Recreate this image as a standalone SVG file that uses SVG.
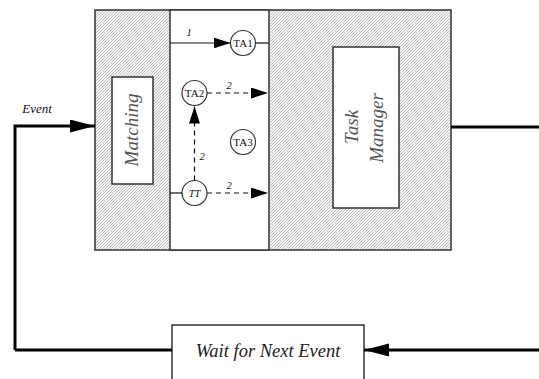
<svg xmlns="http://www.w3.org/2000/svg" width="539" height="379" viewBox="0 0 539 379">
  <style>
    .label { font-family: "Liberation Serif", "Times New Roman", serif; font-style: italic; }
    .big { font-size: 19px; fill: #555; }
    .node-text { font-family: "Liberation Serif", "Times New Roman", serif; font-size: 11px; fill: #111; }
    .num { font-family: "Liberation Serif", "Times New Roman", serif; font-style: italic; font-size: 10.5px; fill: #111; }
    .frame { fill: url(#hatch); stroke: #333; stroke-width: 1.5; }
    .box { fill: #fff; stroke: #333; stroke-width: 1.5; }
    .circle { fill: #fff; stroke: #333; stroke-width: 1.2; }
    .thin { fill: none; stroke: #111; stroke-width: 1.2; }
    .dashed { fill: none; stroke: #111; stroke-width: 1.2; stroke-dasharray: 5 4; }
    .thick { fill: none; stroke: #000; stroke-width: 3; }
  </style>
  <defs>
    <pattern id="hatch" patternUnits="userSpaceOnUse" width="3" height="3">
      <rect width="3" height="3" fill="#f4f4f4"/>
      <path d="M-1,1 L1,-1 M0,3 L3,0 M2,4 L4,2" stroke="#a6a6a6" stroke-width="0.7"/>
    </pattern>
    <marker id="arrow-small" markerUnits="userSpaceOnUse" markerWidth="18" markerHeight="12" refX="17" refY="5.5" orient="auto">
      <path d="M0,0 L17,5.5 L0,11 Z" fill="#000"/>
    </marker>
    <marker id="arrow-big" markerUnits="userSpaceOnUse" markerWidth="26" markerHeight="14" refX="25" refY="6.5" orient="auto">
      <path d="M0,0 L25,6.5 L0,13 Z" fill="#000"/>
    </marker>
  </defs>

  <!-- Main system block: hatched outer frame with a clear middle column -->
  <g id="system">
    <rect x="95" y="10" width="356" height="240" class="frame"/>
    <rect x="170" y="10" width="99" height="240" class="box"/>
  </g>

  <g id="matching">
    <rect x="112" y="77" width="41" height="107" class="box"/>
    <text class="label big" transform="translate(138,130) rotate(-90)" text-anchor="middle">Matching</text>
  </g>

  <g id="task-manager">
    <rect x="333" y="47" width="66" height="161" class="box"/>
    <text class="label big" transform="translate(358,127) rotate(-90)" text-anchor="middle">Task</text>
    <text class="label big" transform="translate(383,128) rotate(-90)" text-anchor="middle">Manager</text>
  </g>

  <g id="wait">
    <rect x="172" y="325" width="192" height="60" class="box"/>
    <text class="label" x="268" y="357" font-size="18.5" fill="#222" text-anchor="middle">Wait for Next Event</text>
  </g>

  <g id="ta1">
    <circle cx="243" cy="43" r="12.5" class="circle"/>
    <text class="node-text" x="243" y="47" text-anchor="middle">TA1</text>
  </g>
  <g id="ta2">
    <circle cx="194.5" cy="93" r="12.5" class="circle"/>
    <text class="node-text" x="194.5" y="97" text-anchor="middle">TA2</text>
  </g>
  <g id="ta3">
    <circle cx="243" cy="142" r="12.5" class="circle"/>
    <text class="node-text" x="243" y="146" text-anchor="middle">TA3</text>
  </g>
  <g id="tt">
    <circle cx="194.5" cy="193" r="12.5" class="circle"/>
    <text class="num" x="194.5" y="197" font-size="11" text-anchor="middle">TT</text>
  </g>

  <g id="connectors">
    <!-- activation paths inside the middle column -->
    <path d="M170,43 L230.5,43" class="thin" marker-end="url(#arrow-small)"/>
    <path d="M255.5,43 L269,43" class="thin"/>
    <text class="num" x="189" y="36" text-anchor="middle">1</text>

    <path d="M207,93 L268,93" class="dashed" marker-end="url(#arrow-small)"/>
    <text class="num" x="229" y="89" text-anchor="middle">2</text>

    <path d="M170,193 L182,193" class="thin"/>
    <path d="M207,193 L268,193" class="dashed" marker-end="url(#arrow-small)"/>
    <text class="num" x="229" y="189" text-anchor="middle">2</text>

    <path d="M194.5,180.5 L194.5,106.5" class="dashed" marker-end="url(#arrow-small)"/>
    <text class="num" x="202" y="160" text-anchor="middle">2</text>

    <!-- event loop -->
    <path d="M15,350 L15,126 L95,126" class="thick" marker-end="url(#arrow-big)"/>
    <text class="label" x="37" y="113" font-size="13" fill="#111" text-anchor="middle">Event</text>
    <path d="M172,350 L15,350" class="thick"/>
    <path d="M451,127 L539,127" class="thick"/>
    <path d="M539,350 L364,350" class="thick" marker-end="url(#arrow-big)"/>
  </g>
</svg>
